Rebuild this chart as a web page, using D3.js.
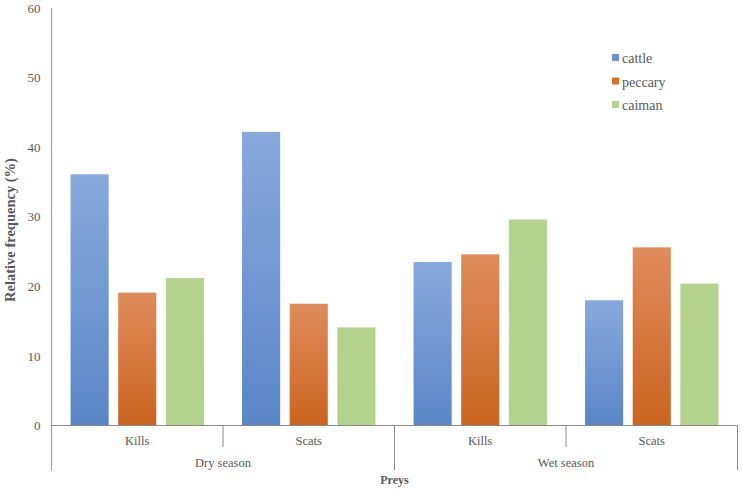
<!DOCTYPE html>
<html>
<head>
<meta charset="utf-8">
<script src="https://cdn.jsdelivr.net/npm/d3@7"></script>
<style>
  body { margin: 0; background: #fff; }
</style>
</head>
<body>
<div class="chart"></div>
<script>
// data
const seasons = ['Dry season', 'Wet season'];
const categories = ['Kills', 'Scats', 'Kills', 'Scats'];
const species = ['cattle', 'peccary', 'caiman'];
const cattle = [36.1, 42.2, 23.5, 18.0];
const peccary = [19.1, 17.5, 24.6, 25.6];
const caiman = [21.2, 14.1, 29.6, 20.4];
const yTicks = [0, 10, 20, 30, 40, 50, 60];

const series = [cattle, peccary, caiman];
const serif = '"Liberation Serif", "Times New Roman", serif';

const width = 743, height = 490;
const svg = d3.select(".chart")
	.append("svg")
	.attr("width", width)
	.attr("height", height)
	.style("font-family", serif);

const defs = svg.append("defs");
const grads = [
	{id: 'g-cattle', top: '#87a9dc', bottom: '#5a86c7'},
	{id: 'g-peccary', top: '#de8c5c', bottom: '#cb6320'},
	{id: 'g-caiman', top: '#b5d38f', bottom: '#b3d28d'}
];
grads.forEach(g => {
	const lg = defs.append("linearGradient")
		.attr("id", g.id)
		.attr("x1", 0).attr("y1", 0).attr("x2", 0).attr("y2", 1);
	lg.append("stop").attr("offset", "0%").attr("stop-color", g.top);
	lg.append("stop").attr("offset", "100%").attr("stop-color", g.bottom);
});
const legendColors = ['#6b93d1', '#d5722e', '#b4d38e'];

const plot = {left: 51.5, right: 737.5, top: 8, bottom: 425.5};

const xScale = d3.scaleBand()
	.domain(d3.range(categories.length))
	.range([plot.left, plot.right]);

const xInner = d3.scaleBand()
	.domain(species)
	.range([0, xScale.bandwidth()])
	.paddingInner(0.2)
	.paddingOuter(0.4);

const yScale = d3.scaleLinear()
	.domain([0, 60])
	.range([plot.bottom, plot.top]);

// y axis
const yAxis = d3.axisLeft(yScale)
	.tickValues(yTicks)
	.tickSize(0)
	.tickPadding(11);

const gy = svg.append("g")
	.attr("transform", `translate(${plot.left},0)`)
	.call(yAxis);
gy.attr("font-family", null);
gy.select(".domain").remove();
gy.selectAll("text")
	.attr("fill", "#595959")
	.style("font-size", "13px")
	.style("font-family", serif);

svg.append("line")
	.attr("x1", plot.left).attr("x2", plot.left)
	.attr("y1", plot.top).attr("y2", 470)
	.attr("stroke", "#a6a6a6").attr("stroke-width", 1.3);

// bars
series.forEach((vals, si) => {
	svg.selectAll(null)
		.data(vals)
		.enter()
		.append("rect")
		.attr("x", (d, i) => xScale(i) + xInner(species[si]))
		.attr("width", xInner.bandwidth())
		.attr("y", d => yScale(d))
		.attr("height", d => yScale(0) - yScale(d))
		.attr("fill", `url(#${grads[si].id})`);
});

// x axis line
svg.append("line")
	.attr("x1", plot.left).attr("x2", plot.right)
	.attr("y1", plot.bottom).attr("y2", plot.bottom)
	.attr("stroke", "#8c8c8c").attr("stroke-width", 1);

// category dividers
categories.forEach((c, i) => {
	const xEnd = xScale(i) + xScale.bandwidth();
	const long = (i % 2 === 1);
	svg.append("line")
		.attr("x1", xEnd).attr("x2", xEnd)
		.attr("y1", plot.bottom).attr("y2", long ? 470 : 447)
		.attr("stroke", "#8c8c8c").attr("stroke-width", 1);
	svg.append("text")
		.attr("x", xScale(i) + xScale.bandwidth() / 2)
		.attr("y", 445)
		.attr("text-anchor", "middle")
		.attr("fill", "#595959")
		.style("font-size", "12.5px")
		.style("font-family", serif)
		.text(c);
});

seasons.forEach((s, i) => {
	svg.append("text")
		.attr("x", xScale(i * 2 + 1))
		.attr("y", 467)
		.attr("text-anchor", "middle")
		.attr("fill", "#595959")
		.style("font-size", "12.5px")
		.style("font-family", serif)
		.text(s);
});

// axis titles
svg.append("text")
	.attr("x", (plot.left + plot.right) / 2)
	.attr("y", 484)
	.attr("text-anchor", "middle")
	.attr("font-weight", "bold")
	.attr("fill", "#595959")
	.style("font-size", "12px")
	.style("font-family", serif)
	.text("Preys");

svg.append("text")
	.attr("transform", `translate(15, 230) rotate(-90)`)
	.attr("text-anchor", "middle")
	.attr("font-weight", "bold")
	.attr("fill", "#595959")
	.style("font-size", "14.5px")
	.style("font-family", serif)
	.text("Relative frequency (%)");

// legend
svg.selectAll(".leg")
	.data(species)
	.enter()
	.append("rect")
	.attr("x", 612)
	.attr("y", (d, i) => 54 + i * 23.5)
	.attr("width", 7)
	.attr("height", 7)
	.attr("fill", (d, i) => legendColors[i]);

svg.selectAll(".legt")
	.data(species)
	.enter()
	.append("text")
	.attr("x", 622)
	.attr("y", (d, i) => 63 + i * 23.5)
	.attr("fill", "#595959")
	.style("font-size", "14px")
	.style("font-family", serif)
	.text(d => d);
</script>
</body>
</html>
